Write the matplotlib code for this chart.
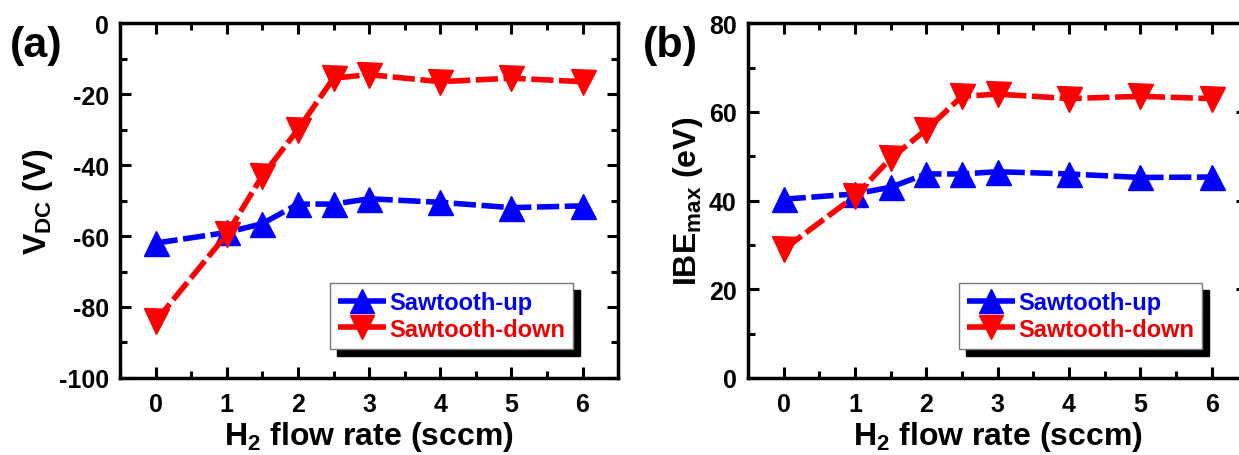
import matplotlib
matplotlib.use('Agg')
from matplotlib import pyplot as plt
from matplotlib.patches import Shadow
from matplotlib.ticker import MultipleLocator

flow = [0, 1, 1.5, 2, 2.5, 3, 4, 5, 6]

# (a) DC self bias
vdc_up = [-62, -59, -56.5, -51, -51, -49.5, -50.5, -52, -51.5]
vdc_down = [-84, -59.5, -43, -30, -15.5, -14.5, -16.5, -15.5, -16.5]

# (b) max ion bombardment energy
ibe_up = [40.3, 41.5, 43, 46, 46, 46.5, 46, 45.2, 45.3]
ibe_down = [29, 41, 49.5, 56, 63.5, 64, 63, 63.5, 63]

plt.rcParams['font.family'] = ['Liberation Sans', 'DejaVu Sans']
plt.rcParams['font.weight'] = 'bold'
plt.rcParams['axes.unicode_minus'] = False
plt.rcParams['mathtext.fontset'] = 'custom'
plt.rcParams['mathtext.rm'] = 'Liberation Sans:bold'
plt.rcParams['mathtext.bf'] = 'Liberation Sans:bold'
plt.rcParams['mathtext.default'] = 'rm'

wd = 4
ms = 18

fig = plt.figure(figsize=(12.39, 4.56), dpi=100)
ax1 = fig.add_axes([0.0969, 0.169, 0.402, 0.778])
ax2 = fig.add_axes([0.6037, 0.169, 0.403, 0.778])


def style(ax, ylim, ymajor, yminor):
    ax.set_xlim(-0.5, 6.5)
    ax.set_ylim(*ylim)
    ax.xaxis.set_major_locator(MultipleLocator(1))
    ax.xaxis.set_minor_locator(MultipleLocator(0.5))
    ax.yaxis.set_major_locator(MultipleLocator(ymajor))
    ax.yaxis.set_minor_locator(MultipleLocator(yminor))
    ax.tick_params(which='both', direction='in', top=True, right=True, width=2.2)
    ax.tick_params(which='major', length=8, labelsize=18, pad=8)
    ax.tick_params(axis='x', which='major', pad=10)
    ax.tick_params(which='minor', length=5)
    for lab in ax.get_xticklabels() + ax.get_yticklabels():
        lab.set_fontweight('bold')
    for s in ax.spines.values():
        s.set_linewidth(2.5)
    ax.set_xlabel("H$_2$ flow rate (sccm)", fontsize=23, fontweight='bold', labelpad=2)


def plot_pair(ax, up, down):
    ax.plot(flow, up, color='#0000ff', marker='^', markersize=ms, linewidth=wd,
            dashes=(4, 1), label="Sawtooth-up")
    ax.plot(flow, down, color='#ff0000', marker='v', markersize=ms, linewidth=wd,
            dashes=(4, 1), label="Sawtooth-down")
    leg = ax.legend(loc='lower right', bbox_to_anchor=(0.91, 0.082), borderaxespad=0,
                    fancybox=False, framealpha=1, edgecolor='#777777',
                    prop={'size': 17, 'weight': 'bold'}, handlelength=2.0,
                    handletextpad=0.15, labelspacing=0.15, borderpad=0.35,
                    markerscale=0.95)
    leg.get_frame().set_linewidth(1)
    for t, c in zip(leg.get_texts(), ['#0000ee', '#ee0000']):
        t.set_color(c)
    sh = Shadow(leg.legendPatch, 5, -5, facecolor='black', edgecolor='black', alpha=1)
    sh.set_zorder(leg.get_zorder() - 0.1)
    ax.add_artist(sh)


plot_pair(ax1, vdc_up, vdc_down)
style(ax1, (-100, 0), 20, 10)
ax1.set_ylabel("V$_{DC}$ (V)", fontsize=23, fontweight='bold', labelpad=3)

plot_pair(ax2, ibe_up, ibe_down)
style(ax2, (0, 80), 20, 10)
ax2.set_ylabel("IBE$_{max}$ (eV)", fontsize=23, fontweight='bold', labelpad=3)

fig.text(0.008, 0.90, "(a)", fontsize=31, fontweight='bold', va='center')
fig.text(0.519, 0.90, "(b)", fontsize=31, fontweight='bold', va='center')

fig.canvas.draw()
plt.savefig('out.png', dpi=100)
